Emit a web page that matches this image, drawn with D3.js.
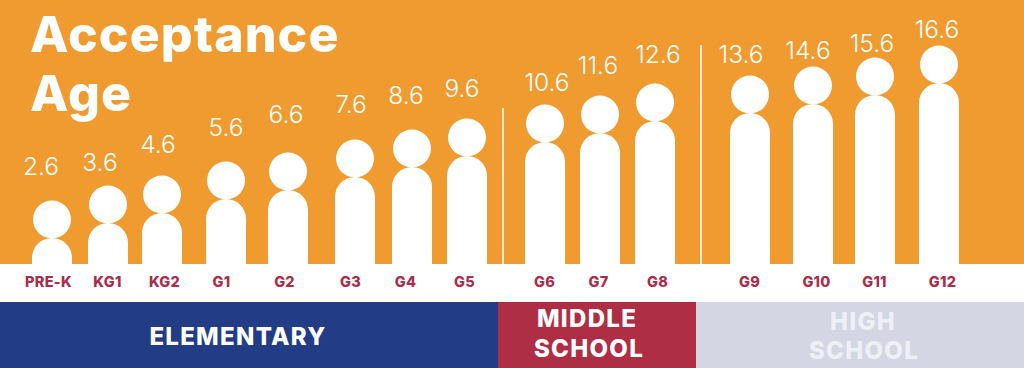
<!DOCTYPE html>
<html>
<head>
<meta charset="utf-8">
<script src="https://cdnjs.cloudflare.com/ajax/libs/d3/7.8.5/d3.min.js"></script>
<style>
  html, body { margin: 0; padding: 0; background: #fff; }
  svg { display: block; font-family: Inter, "Open Sans", sans-serif; }
  .grade-axis path { display: none; }
  .grade-axis line { display: none; }
</style>
</head>
<body>
<script>
// values
var grades = ['PRE-K', 'KG1', 'KG2', 'G1', 'G2', 'G3', 'G4', 'G5', 'G6', 'G7', 'G8', 'G9', 'G10', 'G11', 'G12'];
var ages = [2.6, 3.6, 4.6, 5.6, 6.6, 7.6, 8.6, 9.6, 10.6, 11.6, 12.6, 13.6, 14.6, 15.6, 16.6];
var bodyHeights = [26, 41, 51, 65, 74, 87, 97, 108, 122, 131, 143, 151, 160, 169, 181];
var stages = ['ELEMENTARY', 'MIDDLE SCHOOL', 'HIGH SCHOOL'];
var titleLines = ['Acceptance', 'Age'];

;(function() {

  var width = 1024;
  var height = 368;
  var groundY = 264;
  var bandY = 302;
  var bodyWidth = 40;
  var headRadius = 19;

  var orange = '#ef9b30';
  var maroon = '#a92e4c';

  // figures are not evenly spaced in the original, so the scales are ordinal
  var x = d3.scaleOrdinal().domain(grades)
      .range([52, 108, 162, 226, 288, 355, 412, 467, 545, 600, 655, 750, 813, 875, 939]);
  var gradeX = d3.scaleOrdinal().domain(grades)
      .range([48, 107, 164, 221, 284, 350, 405, 464, 544, 598, 657, 749, 816, 874, 942]);
  var ageX = d3.scaleOrdinal().domain(ages)
      .range([41, 100, 158, 226, 286, 351, 406, 462, 547, 598, 658, 741, 808, 872, 937]);
  var ageY = d3.scaleOrdinal().domain(ages)
      .range([175, 171, 153, 136, 123, 113, 104, 97, 91, 74, 63, 63, 59, 52, 38]);
  var y = d3.scaleLinear().domain([0, 200]).range([groundY, groundY - 200]);

  var stageX = d3.scaleOrdinal().domain(stages).range([0, 498, 696, 1024]);

  var svg = d3.select('body').append('svg').attr('width', width).attr('height', height);

  svg.append('rect').attr('width', width).attr('height', groundY).attr('fill', orange);

  var figures = svg.selectAll('g.figure')
      .data(grades.map(function(g, i) { return {grade: g, age: ages[i], body: bodyHeights[i]}; }))
      .enter().append('g').classed('figure', true);

  // the body runs on below the ground, the white strip covers the rest
  figures.append('rect')
      .attr('x', function(d) { return x(d.grade) - bodyWidth / 2; })
      .attr('y', function(d) { return y(d.body); })
      .attr('width', bodyWidth)
      .attr('height', function(d) { return groundY - y(d.body) + 30; })
      .attr('rx', bodyWidth / 2)
      .attr('fill', '#fff');

  figures.append('circle')
      .attr('cx', function(d) { return x(d.grade); })
      .attr('cy', function(d) { return y(d.body) - headRadius + 0.5; })
      .attr('r', headRadius)
      .attr('fill', '#fff');

  figures.append('text')
      .attr('x', function(d) { return ageX(d.age); })
      .attr('y', function(d) { return ageY(d.age); })
      .attr('text-anchor', 'middle')
      .attr('font-size', 24.5)
      .attr('font-weight', 300)
      .attr('fill', '#fff')
      .text(function(d) { return d.age; });

  // white strip under the figures, with the grade names as an axis
  svg.append('rect').attr('y', groundY).attr('width', width).attr('height', bandY - groundY).attr('fill', '#fff');

  var gradeAxis = d3.axisBottom(gradeX).tickSize(0).tickPadding(0);
  svg.append('g')
      .classed('grade-axis', true)
      .attr('transform', 'translate(0,' + 277 + ')')
      .call(gradeAxis)
      .call(function(g) {
        g.selectAll('text')
            .attr('font-size', 14.5)
            .attr('font-weight', 800)
            .attr('font-family', 'Inter, sans-serif')
            .attr('letter-spacing', 0.3)
            .attr('fill', maroon);
      });

  // stage dividers
  [[503, 108], [701, 45]].forEach(function(d) {
    svg.append('line')
        .attr('x1', d[0]).attr('x2', d[0])
        .attr('y1', d[1]).attr('y2', groundY)
        .attr('stroke', '#fff')
        .attr('stroke-width', 1.6);
  });

  // stage bands
  var bandColors = ['#223c86', '#ae2f45', '#d4d6e3'];
  var bandTextColors = ['#fff', '#fff', '#eef0f6'];
  var stageLines = [
    [{x: 238, y: 345}],
    [{x: 587, y: 327}, {x: 589, y: 357}],
    [{x: 863, y: 330}, {x: 864, y: 359}]
  ];

  stages.forEach(function(s, i) {
    var next = stageX.range()[i + 1];
    svg.append('rect')
        .attr('x', stageX(s)).attr('y', bandY)
        .attr('width', next - stageX(s)).attr('height', height - bandY)
        .attr('fill', bandColors[i]);

    var words = i === 0 ? [s] : s.split(' ');
    words.forEach(function(w, j) {
      svg.append('text')
          .attr('x', stageLines[i][j].x)
          .attr('y', stageLines[i][j].y)
          .attr('text-anchor', 'middle')
          .attr('font-size', 24)
          .attr('font-weight', 800)
          .attr('letter-spacing', 1.3)
          .attr('fill', bandTextColors[i])
          .text(w);
    });
  });

  // title
  svg.selectAll('text.title')
      .data(titleLines)
      .enter().append('text')
      .classed('title', true)
      .attr('x', 30)
      .attr('y', function(d, i) { return 52 + i * 59; })
      .attr('font-size', 50)
      .attr('font-weight', 800)
      .attr('letter-spacing', 1.1)
      .attr('fill', '#fff')
      .text(function(d) { return d; });

}());
</script>
</body>
</html>
